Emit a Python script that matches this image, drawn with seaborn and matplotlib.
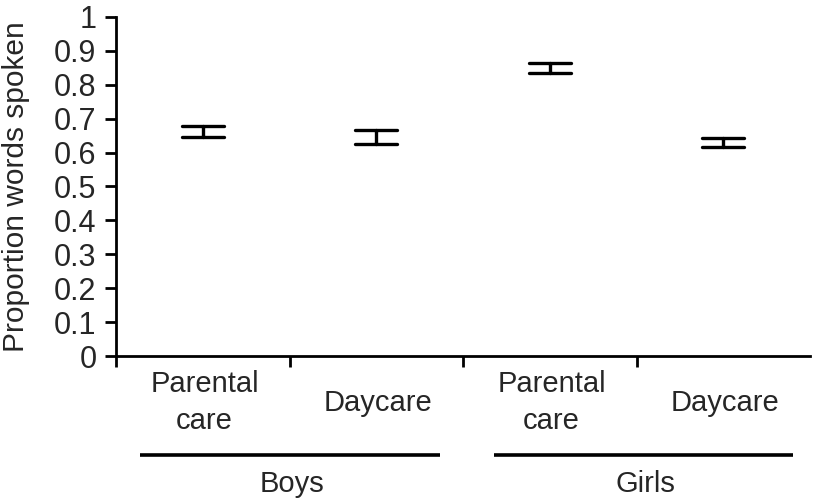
import matplotlib
matplotlib.use("Agg")
import matplotlib.pyplot as plt
import seaborn as sns
import pandas as pd

# Data
conditions = ["Parental\ncare", "Daycare", "Parental\ncare", "Daycare"]
groups = ["Boys", "Girls"]
lower = [0.646, 0.625, 0.835, 0.616]
upper = [0.678, 0.668, 0.865, 0.643]
yticks = [0, 0.1, 0.2, 0.3, 0.4, 0.5, 0.6, 0.7, 0.8, 0.9, 1]
ytick_labels = ["0", "0.1", "0.2", "0.3", "0.4", "0.5", "0.6", "0.7", "0.8", "0.9", "1"]

keys = [f"c{i}" for i in range(len(conditions))]
df = pd.DataFrame({
    "key": keys * 2,
    "value": lower + upper,
})

sns.set_style("white")
plt.rcParams["font.family"] = ["Liberation Sans", "DejaVu Sans"]

fig = plt.figure(figsize=(8.13, 4.98), dpi=100)
ax = fig.add_axes([116 / 813, 1 - 356 / 498, (810 - 116) / 813, (356 - 17) / 498])

sns.pointplot(data=df, x="key", y="value", order=keys,
              estimator="mean", errorbar=("pi", 100),
              markers="", linestyles="none", capsize=0.24,
              color="black", err_kws={"linewidth": 2.4}, ax=ax)

ax.set_xlim(-0.5, len(keys) - 0.5)
ax.set_ylim(0, 1)
ax.set_yticks(yticks)
ax.set_yticklabels(ytick_labels, fontsize=22)
ax.set_xticks([i - 0.5 for i in range(len(keys))])
ax.set_xticklabels([])
ax.set_xlabel("")
ax.set_ylabel("Proportion words spoken", fontsize=21.5, labelpad=17)
ax.tick_params(axis="both", direction="out", length=8, width=2, color="black",
               left=True, bottom=True, pad=6)
for s in ["top", "right"]:
    ax.spines[s].set_visible(False)
for s in ["left", "bottom"]:
    ax.spines[s].set_linewidth(2)
    ax.spines[s].set_color("black")

trans = ax.get_xaxis_transform()
for i, lab in enumerate(conditions):
    ax.text(i + 0.01, -0.138, lab, transform=trans, ha="center", va="center",
            fontsize=21, linespacing=1.42)

line_spans = [(-0.36, 1.37), (1.68, 3.40)]
for g, name in enumerate(groups):
    x0, x1 = line_spans[g]
    ax.plot([x0, x1], [-0.292, -0.292], transform=trans, color="black",
            linewidth=2.6, clip_on=False, solid_capstyle="butt")
    ax.text((x0 + x1) / 2 + 0.01, -0.378, name, transform=trans, ha="center",
            va="center", fontsize=21)

fig.savefig("out.png", dpi=100)
